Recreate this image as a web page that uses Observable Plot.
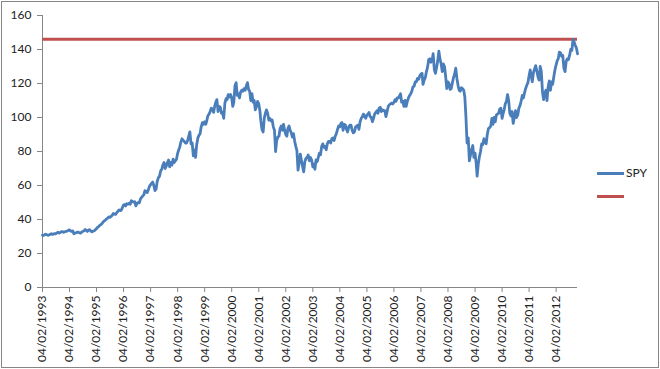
<!DOCTYPE html>
<html><head><meta charset="utf-8">
<script src="https://cdn.jsdelivr.net/npm/d3@7"></script>
<script src="https://cdn.jsdelivr.net/npm/@observablehq/plot@0.6"></script>
<style>
body{margin:0;background:#fff;}
#wrap{position:relative;width:660px;height:369px;overflow:hidden;font-family:Lato,sans-serif;background:#fff;}
#frame{position:absolute;left:1px;top:1px;width:656px;height:365px;border:1px solid #868686;pointer-events:none;}
#chart{position:absolute;left:0;top:0;}
.leg{position:absolute;left:597px;width:27px;height:3px;}
.legtext{position:absolute;left:626px;font-size:12px;line-height:14px;color:#222;}
</style></head><body>
<div id="wrap"><div id="chart"></div><div id="frame"></div>
<div class="leg" style="top:172px;background:#4a7ebb"></div><div class="legtext" style="top:166px">SPY</div>
<div class="leg" style="top:195px;background:#c0504d"></div>
</div>
<script>
// Semi-monthly SPY values (4th and 19th of each month)
const y1993 = [30.8,30.6,31.0,31.4,31.0,30.7,30.9,31.3,31.6,31.2,31.5,31.7,31.6,32.2,32.5,32.0,32.4,32.8,32.9,32.5,32.8,33.0]; // from Feb
const y1994 = [33.2,33.6,33.9,33.2,33.0,33.3,31.6,32.0,32.2,32.6,32.5,32.1,32.0,32.6,33.0,33.4,34.1,33.6,33.0,33.8,34.0,33.1,32.8,33.2];
const y1995 = [33.3,34.0,34.6,35.5,35.8,36.5,37.0,37.6,38.5,39.2,39.6,40.4,40.8,41.5,41.3,41.8,42.5,43.5,43.2,43.0,44.0,44.8,45.6,45.2];
const y1996 = [45.5,47.0,48.5,48.8,48.0,49.3,49.0,49.6,49.0,51.0,50.6,50.2,50.5,48.0,49.5,50.0,49.8,52.0,53.0,53.8,54.5,57.0,56.5,55.8];
const y1997 = [57.5,59.5,60.5,61.5,62.0,60.0,57.0,58.0,62.5,64.5,65.5,68.5,69.5,72.0,73.5,70.0,71.5,73.5,75.0,71.0,73.5,72.0,75.5,73.5];
const y1998 = [74.5,75.5,79.0,81.0,82.5,85.5,87.5,86.5,86.0,85.0,85.0,86.5,89.0,91.5,84.5,85.0,77.5,81.0,76.5,84.0,88.0,89.5,90.5,94.5];
const y1999 = [97.0,96.0,97.5,96.0,98.0,101.0,102.0,103.5,105.5,105.0,103.0,106.5,109.0,110.5,103.5,106.5,106.0,102.5,103.0,99.5,108.5,111.0,110.5,113.5];
const y2000 = [112.0,113.5,111.5,106.5,109.0,118.5,120.5,113.0,114.0,111.5,115.0,116.0,115.5,117.0,116.0,118.5,120.5,116.5,115.5,110.0,114.0,109.0,110.0,104.5];
const y2001 = [106.5,109.5,108.0,104.0,98.0,93.0,91.5,99.5,102.5,104.5,102.5,98.5,99.5,98.0,98.5,94.5,92.5,80.0,86.5,88.5,89.0,93.5,95.0,92.5];
const y2002 = [96.0,92.5,90.0,89.0,93.5,95.0,92.5,91.0,88.5,90.5,86.0,83.0,80.5,69.0,73.5,78.5,74.5,71.0,68.0,74.0,76.0,76.5,78.0,74.5];
const y2003 = [76.5,75.0,71.0,72.5,69.5,75.0,74.0,76.5,79.0,78.0,83.0,84.5,82.5,83.0,81.0,84.5,86.0,86.0,85.0,87.5,88.0,86.5,89.0,90.5];
const y2004 = [93.0,95.0,94.5,96.5,97.0,92.5,96.0,95.5,93.0,91.5,94.5,95.5,95.5,92.5,91.0,91.5,94.5,95.0,95.5,93.0,97.5,99.5,100.5,102.0];
const y2005 = [100.5,99.5,101.5,102.0,103.0,100.5,100.0,97.5,99.5,102.0,103.0,104.0,102.5,105.5,106.0,103.5,104.5,104.0,104.0,100.5,103.5,106.5,107.5,108.0];
const y2006 = [108.5,108.0,109.0,110.5,109.5,111.5,111.5,112.5,114.0,109.0,109.5,106.5,110.0,106.5,109.5,111.5,113.0,114.0,115.5,118.0,118.5,121.0,121.0,123.0];
const y2007 = [122.5,124.5,125.5,126.0,119.5,122.0,123.5,127.0,129.5,134.0,134.5,132.5,133.5,137.5,128.0,126.0,129.5,133.5,139.0,134.5,131.5,127.0,131.5,130.0];
const y2008 = [124.0,117.0,121.0,120.0,116.5,117.0,120.5,123.5,125.5,129.0,123.0,119.0,116.0,115.5,117.5,117.0,116.0,112.0,100.0,85.0,88.0,74.5,78.0,81.0];
const y2009 = [83.5,76.5,79.0,73.0,65.5,72.5,77.0,80.0,84.5,84.0,87.5,85.5,84.5,90.0,93.5,94.0,95.0,99.5,96.0,100.0,97.5,101.5,102.0,102.5];
const y2010 = [105.0,105.5,99.5,102.5,104.5,108.0,109.5,113.5,110.0,102.5,101.0,103.5,96.5,100.0,104.0,100.0,101.5,105.5,107.0,109.5,113.0,111.5,114.5,117.0];
const y2011 = [119.0,120.5,124.5,128.0,124.5,121.0,126.5,128.5,130.5,127.5,124.0,122.0,130.0,127.0,115.0,110.5,114.5,116.0,110.0,118.0,121.5,116.0,121.0,119.5];
const y2012 = [124.0,128.0,131.0,133.5,134.5,138.5,138.0,136.0,136.5,129.0,127.0,133.0,134.5,134.0,136.5,140.0,139.5,146.0,144.5,142.5,141.0,137.5]; // to Nov

const yearSeries = [[1993,1,y1993],[1994,0,y1994],[1995,0,y1995],[1996,0,y1996],[1997,0,y1997],[1998,0,y1998],[1999,0,y1999],[2000,0,y2000],[2001,0,y2001],[2002,0,y2002],[2003,0,y2003],[2004,0,y2004],[2005,0,y2005],[2006,0,y2006],[2007,0,y2007],[2008,0,y2008],[2009,0,y2009],[2010,0,y2010],[2011,0,y2011],[2012,0,y2012]];

const xTickLabels = ["04/02/1993","04/02/1994","04/02/1995","04/02/1996","04/02/1997","04/02/1998","04/02/1999","04/02/2000","04/02/2001","04/02/2002","04/02/2003","04/02/2004","04/02/2005","04/02/2006","04/02/2007","04/02/2008","04/02/2009","04/02/2010","04/02/2011","04/02/2012"];
const yTicks = [0,20,40,60,80,100,120,140,160];

const data = [];
for (const [yr, m0, vals] of yearSeries) {
  vals.forEach((v, i) => {
    data.push({date: new Date(Date.UTC(yr, m0 + Math.floor(i / 2), i % 2 ? 19 : 4)), spy: v});
  });
}
const peak = d3.max(data, d => d.spy);
const parse = d3.utcParse("%d/%m/%Y");
const fmt = d3.utcFormat("%d/%m/%Y");
const xTicks = xTickLabels.map(parse);
const x0 = data[0].date, x1 = data[data.length - 1].date;

const chart = Plot.plot({
  width: 660, height: 369,
  marginLeft: 42, marginRight: 83, marginTop: 15, marginBottom: 82,
  style: {fontFamily: "Lato, sans-serif", fontSize: "12px", color: "#222", background: "transparent"},
  x: {type: "utc", domain: [x0, x1]},
  y: {domain: [0, 160]},
  marks: [
    Plot.axisY({ticks: yTicks, tickSize: 5, tickPadding: 6, stroke: "#868686", fill: "#222", label: null, tickFormat: d => String(d)}),
    Plot.axisX({ticks: xTicks, tickSize: 5, tickPadding: 3, tickRotate: -90, stroke: "#868686", fill: "#222", label: null, tickFormat: fmt}),
    Plot.ruleX([x0], {stroke: "#868686"}),
    Plot.ruleY([0], {stroke: "#868686"}),
    Plot.ruleY([peak], {x1: x0, x2: x1, stroke: "#c0504d", strokeWidth: 3}),
    Plot.lineY(data, {x: "date", y: "spy", stroke: "#4a7ebb", strokeWidth: 2.8, strokeLinejoin: "round"})
  ]
});
document.getElementById("chart").appendChild(chart);
</script>
</body></html>
